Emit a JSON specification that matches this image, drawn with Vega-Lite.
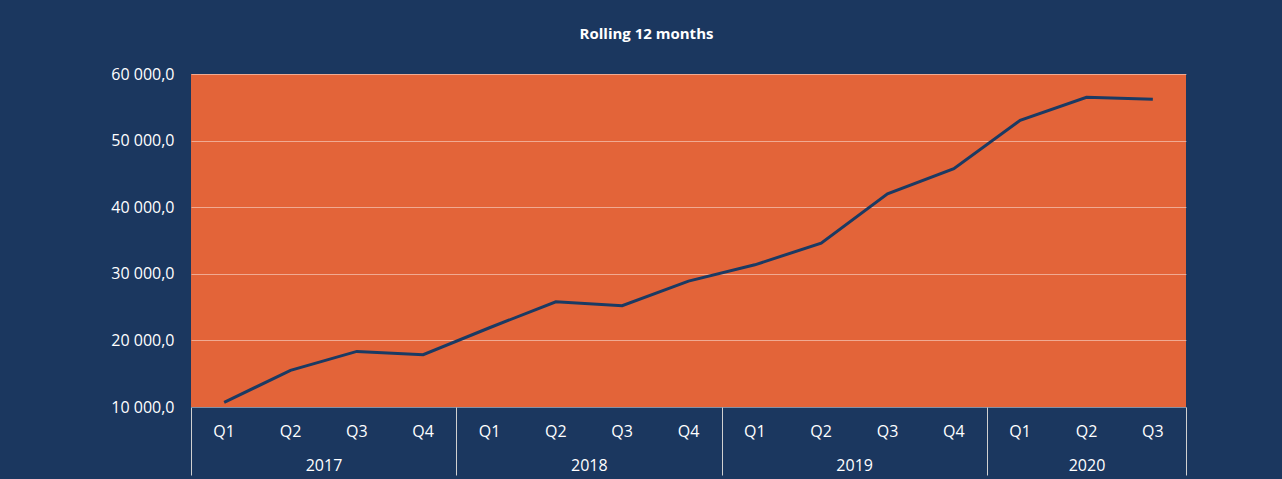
{
  "$schema": "https://vega.github.io/schema/vega-lite/v6.json",
  "width": 995,
  "height": 333,
  "autosize": {"type": "none"},
  "padding": {"left": 191, "top": 74, "right": 96, "bottom": 72},
  "background": "#1b375f",
  "title": {"text": "Rolling 12 months", "color": "#ffffff", "fontSize": 15, "fontWeight": "bold", "font": "Open Sans", "anchor": "middle", "dx": -42, "offset": 24},
  "view": {"fill": "#e36439", "stroke": null},
  "data": {"values": [
    {"period": "2017 Q1", "value": 10700},
    {"period": "2017 Q2", "value": 15500},
    {"period": "2017 Q3", "value": 18350},
    {"period": "2017 Q4", "value": 17850},
    {"period": "2018 Q1", "value": 21900},
    {"period": "2018 Q2", "value": 25800},
    {"period": "2018 Q3", "value": 25200},
    {"period": "2018 Q4", "value": 28900},
    {"period": "2019 Q1", "value": 31350},
    {"period": "2019 Q2", "value": 34600},
    {"period": "2019 Q3", "value": 42000},
    {"period": "2019 Q4", "value": 45770},
    {"period": "2020 Q1", "value": 53050},
    {"period": "2020 Q2", "value": 56500},
    {"period": "2020 Q3", "value": 56200}
  ]},
  "layer": [
    {
      "mark": {"type": "line", "color": "#1b3a63", "strokeWidth": 3},
      "encoding": {
        "x": {"field": "period", "type": "ordinal", "sort": null,
          "scale": {"type": "band", "paddingInner": 0, "paddingOuter": 0},
          "axis": {"orient": "bottom", "title": null, "domain": false, "ticks": false, "grid": false,
            "labelExpr": "isString(datum.value) ? slice(datum.value, 5) : ''", "labelAngle": 0, "labelPadding": 16,
            "labelFontSize": 16, "labelFont": "Open Sans", "labelColor": "#ffffff", "labelOverlap": false}},
        "y": {"field": "value", "type": "quantitative",
          "scale": {"domain": [10000, 60000], "nice": false, "zero": false},
          "axis": {"title": null, "values": [10000, 20000, 30000, 40000, 50000, 60000], "domain": false, "ticks": false,
            "grid": true, "gridColor": "#ffffff", "gridOpacity": 0.45, "gridWidth": 1,
            "labelExpr": "replace(replace(format(datum.value, ',.1f'), ',', ' '), '.', ',')",
            "labelPadding": 17, "labelFontSize": 16, "labelFont": "Open Sans", "labelColor": "#ffffff"}}
      }
    },
    {
      "mark": {"type": "line", "opacity": 0},
      "encoding": {
        "x": {"field": "period", "type": "ordinal", "sort": null,
          "scale": {"type": "band", "paddingInner": 0, "paddingOuter": 0},
          "axis": {"orient": "bottom", "title": null, "domain": false, "grid": false,
            "ticks": true, "tickBand": "extent", "tickSize": 68, "tickColor": "#d0d0d0", "tickWidth": 1,
            "tickOpacity": {"condition": {"test": "!isString(datum.value) || datum.value == '2017 Q4' || datum.value == '2018 Q4' || datum.value == '2019 Q4' || datum.value == '2020 Q3'", "value": 1}, "value": 0},
            "labelExpr": "datum.value == '2017 Q2' || datum.value == '2018 Q2' || datum.value == '2019 Q2' || datum.value == '2020 Q2' ? slice(datum.value, 0, 4) : ''",
            "labelOffset": {"condition": {"test": "datum.value == '2020 Q2'", "value": 0}, "value": 33},
            "labelAngle": 0, "labelPadding": -18, "labelOverlap": false,
            "labelFontSize": 16, "labelFont": "Open Sans", "labelColor": "#ffffff"}},
        "y": {"field": "value", "type": "quantitative",
          "scale": {"domain": [10000, 60000], "nice": false, "zero": false}}
      }
    }
  ],
  "resolve": {"axis": {"x": "independent"}}
}
